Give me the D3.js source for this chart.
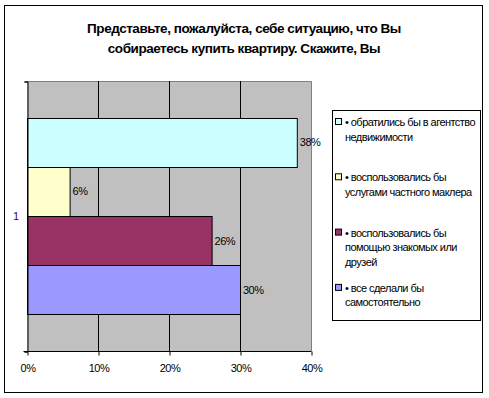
<!DOCTYPE html>
<html>
<head>
<meta charset="utf-8">
<script src="https://cdn.jsdelivr.net/npm/d3@7"></script>
<style>
  body { margin: 0; background: #fff; }
  text { font-family: "Liberation Sans", Arial, sans-serif; }
</style>
</head>
<body>
<div id="chart"></div>
<script>
const titleLines = ["Представьте, пожалуйста, себе ситуацию, что Вы", "собираетесь купить квартиру. Скажите, Вы"];
const categories = ["1"];
const seriesNames = ["agency", "broker", "friends", "self"];
const seriesLabels = [
  ["• обратились бы в агентство", "недвижимости"],
  ["• воспользовались бы", "услугами частного маклера"],
  ["• воспользовались бы", "помощью знакомых или", "друзей"],
  ["• все сделали бы", "самостоятельно"]
];
const values = [0.38, 0.06, 0.26, 0.30];
const seriesColors = ["#CCFFFF", "#FFFFCC", "#993366", "#9999FF"];
const xTicks = [0, 0.1, 0.2, 0.3, 0.4];

const w = 489, h = 398;
const plot = { left: 27, right: 311, top: 81, bottom: 351 };

const svg = d3.select("#chart").append("svg")
  .attr("width", w)
  .attr("height", h);

// outer frame
svg.append("rect")
  .attr("x", 4.5).attr("y", 5.5)
  .attr("width", 478).attr("height", 387)
  .attr("fill", "#fff").attr("stroke", "#000");

svg.selectAll(".title")
  .data(titleLines)
  .enter()
  .append("text")
  .attr("class", "title")
  .attr("x", 244)
  .attr("y", (d, i) => 33 + i * 20)
  .attr("text-anchor", "middle")
  .style("font-weight", "bold")
  .style("font-size", "13.5px")
  .style("letter-spacing", "-0.45px")
  .text(d => d);

const xScale = d3.scaleLinear()
  .domain([0, 0.4])
  .range([plot.left, plot.right]);

const yCat = d3.scaleBand()
  .domain(categories)
  .range([plot.top, plot.bottom])
  .paddingInner(0.273)
  .paddingOuter(0.1365);

const ySeries = d3.scaleBand()
  .domain(seriesNames)
  .range([0, yCat.bandwidth()]);

// plot area
svg.append("rect")
  .attr("x", plot.left).attr("y", plot.top)
  .attr("width", plot.right - plot.left).attr("height", plot.bottom - plot.top)
  .attr("fill", "#C0C0C0");

svg.append("path")
  .attr("d", `M${plot.left},${plot.top + 0.5}H${plot.right + 0.5}V${plot.bottom}`)
  .attr("fill", "none").attr("stroke", "#808080");

svg.selectAll(".grid")
  .data(xTicks.slice(1, -1))
  .enter()
  .append("line")
  .attr("x1", d => Math.round(xScale(d)) + 0.5)
  .attr("x2", d => Math.round(xScale(d)) + 0.5)
  .attr("y1", plot.top)
  .attr("y2", plot.bottom)
  .attr("stroke", "#000");

const bars = svg.append("g");
categories.forEach(cat => {
  bars.selectAll(".bar")
    .data(values)
    .enter()
    .append("rect")
    .attr("class", "bar")
    .attr("x", xScale(0) + 0.5)
    .attr("y", (d, i) => Math.round(yCat(cat) + ySeries(seriesNames[i])) + 0.5)
    .attr("width", d => xScale(d) - xScale(0))
    .attr("height", Math.round(ySeries.bandwidth()))
    .attr("fill", (d, i) => seriesColors[i])
    .attr("stroke", "#000");

  bars.selectAll(".val")
    .data(values)
    .enter()
    .append("text")
    .attr("class", "val")
    .attr("x", d => xScale(d) + 3)
    .attr("y", (d, i) => yCat(cat) + ySeries(seriesNames[i]) + ySeries.bandwidth() / 2 + 4)
    .style("font-size", "11px")
    .style("letter-spacing", "-0.5px")
    .text(d => d3.format(".0%")(d));
});

// axes
const xAxis = d3.axisBottom(xScale)
  .tickValues(xTicks)
  .tickFormat(d3.format(".0%"))
  .tickSize(4)
  .tickPadding(9);

const gx = svg.append("g")
  .attr("transform", `translate(0.5,${plot.bottom + 0.5})`)
  .call(xAxis);
gx.select(".domain").attr("d", `M${plot.left - 4},0H${plot.right}`).attr("stroke", "#000");
gx.selectAll("text")
  .style("font-family", "Liberation Sans, Arial, sans-serif")
  .style("font-size", "11px")
  .style("letter-spacing", "-0.5px")
  .attr("fill", "#000");

const yAxis = d3.axisLeft(d3.scaleLinear().domain([0, 1]).range([plot.bottom, plot.top]))
  .tickValues([0, 1])
  .tickSize(3)
  .tickFormat("");
const gy = svg.append("g")
  .attr("transform", `translate(${plot.left + 0.5},0.5)`)
  .call(yAxis);
gy.select(".domain").attr("stroke", "#000");

svg.selectAll(".cat")
  .data(categories)
  .enter()
  .append("text")
  .attr("class", "cat")
  .attr("x", 16)
  .attr("y", d => yCat(d) + yCat.bandwidth() / 2 + 4)
  .attr("text-anchor", "middle")
  .attr("fill", "#400060")
  .style("font-size", "11px")
  .text(d => d);

// legend
const legend = svg.append("g");
legend.append("rect")
  .attr("x", 332.5).attr("y", 110.5)
  .attr("width", 148).attr("height", 210)
  .attr("fill", "#fff").attr("stroke", "#000");

const items = legend.selectAll(".item")
  .data(seriesLabels)
  .enter()
  .append("g")
  .attr("transform", (d, i) => `translate(335,${122 + i * 55.3})`);

items.append("rect")
  .attr("x", 0.5).attr("y", -3.5)
  .attr("width", 6).attr("height", 6)
  .attr("fill", (d, i) => seriesColors[i])
  .attr("stroke", "#000");

items.selectAll("text")
  .data(d => d)
  .enter()
  .append("text")
  .attr("x", 10)
  .attr("y", (d, j) => 4 + j * 14.5)
  .style("font-size", "11px")
  .style("letter-spacing", "-0.55px")
  .text(d => d);
</script>
</body>
</html>
